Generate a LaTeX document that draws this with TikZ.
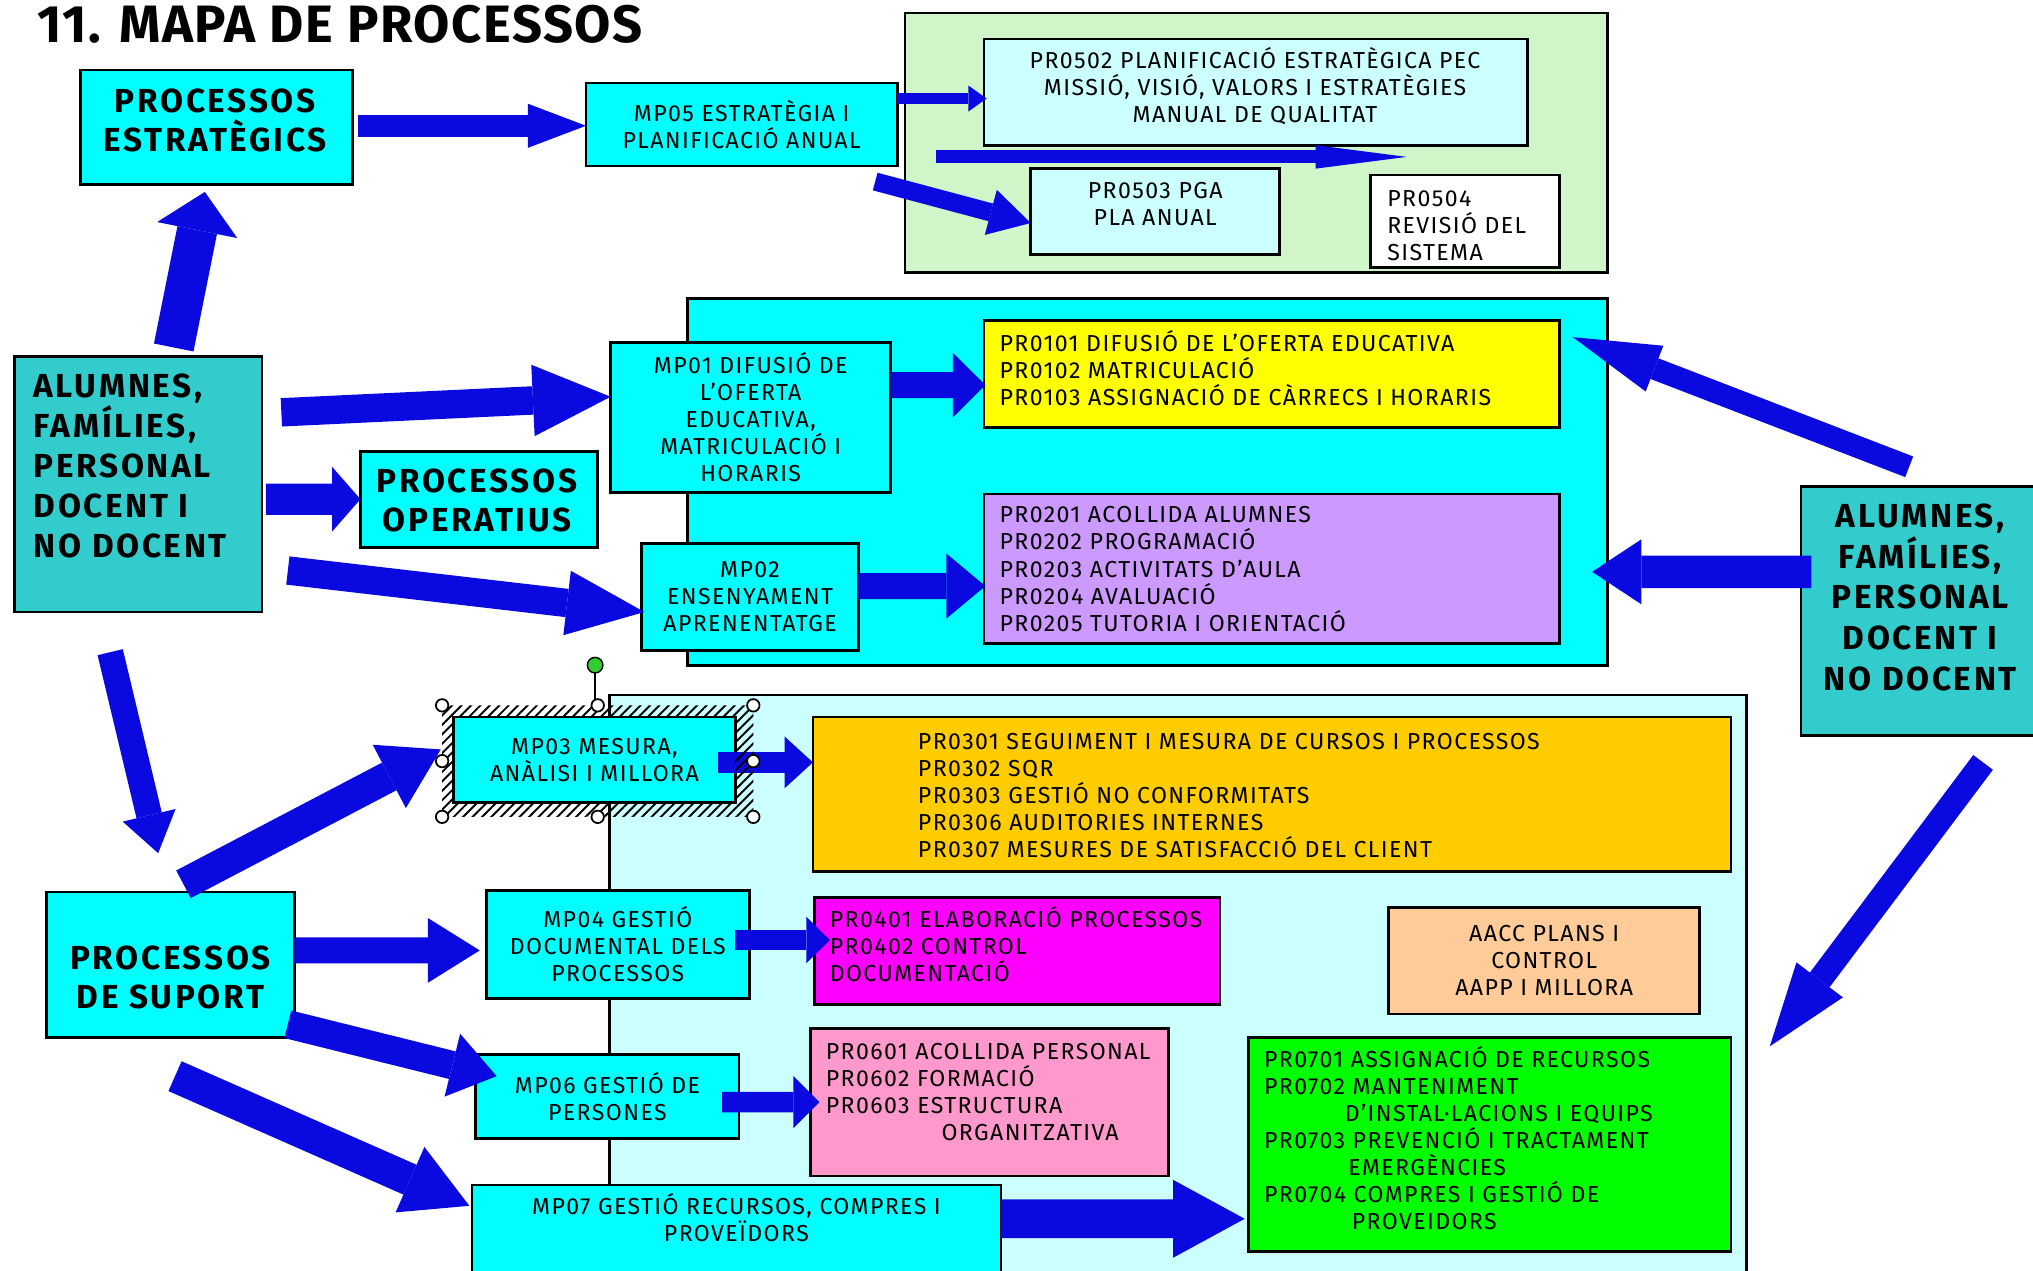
\documentclass[tikz,border=0pt]{standalone}
\usepackage{fontspec}
\setmainfont{Fira Sans}
\usetikzlibrary{arrows.meta,calc,patterns.meta}
\definecolor{cy}{HTML}{00FFFF}
\definecolor{lcy}{HTML}{CCFFFF}
\definecolor{lgreen}{HTML}{D0F5C8}
\definecolor{tealc}{HTML}{33CCCC}
\definecolor{yel}{HTML}{FFFF00}
\definecolor{purp}{HTML}{CC99FF}
\definecolor{orng}{HTML}{FFCC00}
\definecolor{mag}{HTML}{FF00FF}
\definecolor{peach}{HTML}{FFCC99}
\definecolor{pinkc}{HTML}{FF99CC}
\definecolor{grn}{HTML}{00FF00}
\definecolor{ablue}{HTML}{0A0AE0}
\definecolor{hgreen}{HTML}{33CC33}
\newcommand\mybox[7][]{\node[box,#1,minimum width={(#5-#3)*0.013cm},minimum height={(#6-#4)*0.013cm}] (#2) at ({(#3+#5)/2},{(#4+#6)/2}) {#7};}
\newcommand\fl{\rule{0pt}{6.3pt}}
\newcommand\flb{\rule{0pt}{9pt}}
\newcommand\smallfnt{\fontsize{6.6}{7.7}\selectfont\addfontfeatures{LetterSpace=6}}
\newcommand\boldfnt{\fontsize{9.5}{11.1}\selectfont\bfseries\addfontfeatures{LetterSpace=8}}
\begin{document}
\begin{tikzpicture}[x=0.013cm,y=-0.013cm,
 box/.style={draw=black,line width=0.8pt,inner sep=0pt,outer sep=0pt,align=center},
 pan/.style={draw=black,line width=0.8pt},
 st/.style={font=\smallfnt},
 bt/.style={inner sep=0pt,outer sep=0pt,align=center,anchor=north,font=\boldfnt},
 tx/.style={inner sep=0pt,outer sep=0pt,align=left,anchor=north west,font=\smallfnt},
 ar/.style n args={3}{draw=ablue,line width=#1,-{Triangle[width=#2,length=#3,line width=0pt]}},
 hnd/.style={draw=black,fill=white,line width=0.5pt}]
\useasboundingbox (0,0) rectangle (1568,980);
\node[anchor=base west,inner sep=0pt,font=\fontsize{15}{18}\selectfont\bfseries\addfontfeatures{LetterSpace=3}] (title) at (28,33) {11. MAPA DE PROCESSOS};
% panels
\mybox[pan,fill=lgreen]{gp}{698}{10}{1240}{210}{}
\mybox[pan,fill=cy]{op}{530}{230}{1240}{513}{}
\mybox[pan,fill=lcy]{sp}{470}{536}{1347}{995}{}
% boxes
\mybox[fill=cy]{pe}{62}{54}{272}{142}{}
\mybox[fill=cy,st]{mp05}{452}{64}{692}{128}{MP05 ESTRATÈGIA I\\PLANIFICACIÓ ANUAL}
\mybox[fill=lcy]{pr0502}{759}{30}{1178}{112}{}
\mybox[fill=lcy]{pr0503}{795}{130}{987}{196}{}
\mybox[fill=white]{pr0504}{1057}{135}{1203}{206}{}
\mybox[fill=cy,st]{mp01}{471}{264}{687}{380}{MP01 DIFUSIÓ DE\\L'OFERTA\\EDUCATIVA,\\MATRICULACIÓ I\\HORARIS}
\mybox[fill=yel]{pr01}{759}{247}{1203}{330}{}
\mybox[fill=purp]{pr02}{759}{381}{1203}{496}{}
\mybox[fill=cy,st]{mp02}{495}{419}{662}{502}{MP02\\ENSENYAMENT\\APRENENTATGE}
\mybox[fill=tealc]{alL}{11}{275}{202}{472}{}
\mybox[fill=cy]{po}{278}{348}{461}{422}{}
\mybox[fill=tealc]{alR}{1389}{375}{1572}{567}{}
\mybox[fill=orng]{pr03}{627}{553}{1335}{672}{}
\mybox[fill=cy,st]{mp03}{350}{553}{567}{619}{MP03 MESURA,\\ANÀLISI I MILLORA}
\mybox[fill=cy,st]{mp04}{375}{687}{578}{770}{MP04 GESTIÓ\\DOCUMENTAL DELS\\PROCESSOS}
\mybox[fill=mag]{pr04}{628}{692}{941}{775}{}
\mybox[fill=peach,st]{aacc}{1071}{700}{1311}{782}{AACC PLANS I\\CONTROL\\AAPP I MILLORA}
\mybox[fill=cy]{ps}{36}{688}{227}{800}{}
\mybox[fill=cy,st]{mp06}{367}{813}{570}{878}{MP06 GESTIÓ DE\\PERSONES}
\mybox[fill=pinkc]{pr06}{625}{793}{901}{907}{}
\mybox[fill=cy]{mp07}{364}{914}{772}{995}{}
\mybox[fill=grn]{pr07}{963}{800}{1335}{965}{}
% bold texts
\node[bt] (pet) at (166,62.6) {\flb PROCESSOS\\ESTRATÈGICS};
\node[bt] (pot) at (368,355.6) {\flb PROCESSOS\\OPERATIUS};
\node[bt] (pst) at (131.5,723.6) {\flb PROCESSOS\\DE SUPORT};
\node[bt,anchor=north west,align=left,font=\boldfnt\fontsize{9.5}{11.4}\selectfont] (alLt) at (26,282.6) {\flb ALUMNES,\\FAMÍLIES,\\PERSONAL\\DOCENT I\\NO DOCENT};
\node[bt,font=\boldfnt\fontsize{9.5}{11.6}\selectfont] (alRt) at (1481,382.6) {\flb ALUMNES,\\FAMÍLIES,\\PERSONAL\\DOCENT I\\NO DOCENT};
% small texts
\node[tx,align=center,anchor=north] (t0502) at (968,36) {\fl PR0502 PLANIFICACIÓ ESTRATÈGICA PEC\\MISSIÓ, VISIÓ, VALORS I ESTRATÈGIES\\MANUAL DE QUALITAT};
\node[tx,align=center,anchor=north] (t0503) at (891,136) {\fl PR0503 PGA\\PLA ANUAL};
\node[tx] (t0504) at (1070,142) {\fl PR0504\\REVISIÓ DEL\\SISTEMA};
\node[tx] (t01) at (771,254) {\fl PR0101 DIFUSIÓ DE L'OFERTA EDUCATIVA\\PR0102 MATRICULACIÓ\\PR0103 ASSIGNACIÓ DE CÀRRECS I HORARIS};
\node[tx,font=\smallfnt\fontsize{6.6}{7.8}\selectfont] (t02) at (771,386) {\fl PR0201 ACOLLIDA ALUMNES\\PR0202 PROGRAMACIÓ\\PR0203 ACTIVITATS D'AULA\\PR0204 AVALUACIÓ\\PR0205 TUTORIA I ORIENTACIÓ};
\node[tx] (t03) at (708,561) {\fl PR0301 SEGUIMENT I MESURA DE CURSOS I PROCESSOS\\PR0302 SQR\\PR0303 GESTIÓ NO CONFORMITATS\\PR0306 AUDITORIES INTERNES\\PR0307 MESURES DE SATISFACCIÓ DEL CLIENT};
\node[tx] (t04) at (640,698) {\fl PR0401 ELABORACIÓ PROCESSOS\\PR0402 CONTROL\\DOCUMENTACIÓ};
\node[tx] (t06) at (637,800) {\fl PR0601 ACOLLIDA PERSONAL\\PR0602 FORMACIÓ\\PR0603 ESTRUCTURA\\\hspace*{33pt}ORGANITZATIVA};
\node[tx] (t07) at (975,806) {\fl PR0701 ASSIGNACIÓ DE RECURSOS\\PR0702 MANTENIMENT\\\hspace*{23pt}D'INSTAL·LACIONS I EQUIPS\\PR0703 PREVENCIÓ I TRACTAMENT\\\hspace*{24pt}EMERGÈNCIES\\PR0704 COMPRES I GESTIÓ DE\\\hspace*{25pt}PROVEIDORS};
\node[tx,align=center,anchor=north] (t07m) at (568,920) {\fl MP07 GESTIÓ RECURSOS, COMPRES I\\PROVEÏDORS};
% arrows
\draw[ar={6.3pt}{12.6pt}{16.6pt}] ($(pe.east)+(4,-1)$) -- ($(mp05.west)+(0,1)$);
\draw[ar={3.3pt}{7.4pt}{5.2pt}] ($(mp05.north east)+(0,12)$) -- ($(pr0502.west)+(2,5)$);
\coordinate (a3s) at (722,121);
\coordinate (a3e) at (1085,121);
\draw[ar={3.7pt}{6.7pt}{26pt}] (a3s) -- (a3e);
\draw[ar={5.2pt}{13.3pt}{11.8pt}] ($(mp05.south east)+(-17,12)$) -- ($(pr0503.west)+(0,9)$);
\draw[ar={8.1pt}{20.4pt}{22.2pt}] ($(alL.north east)+(15,43)$) -- ($(mp01.west)+(0,-16)$);
\draw[ar={8.9pt}{18.5pt}{8.1pt}] ($(alL.east)+(3,11.5)$) -- (po.west);
\draw[ar={8.1pt}{18.5pt}{22.2pt}] ($(alL.south east)+(20,-32)$) -- ($(mp02.west)+(2,11.5)$);
\draw[ar={11.5pt}{23.3pt}{11.1pt}] ($(alL.north)+(27.5,-7)$) -- ($(pe.south)+(-9,6)$);
\draw[ar={7.4pt}{15.5pt}{11.1pt}] ($(alL.south)+(-21.5,31)$) -- ($(ps.north)+(-9.5,-30)$);
\draw[ar={7.4pt}{18.5pt}{9.3pt}] ($(mp01.east)+(0,-25)$) -- ($(pr01.west)+(1,8.5)$);
\draw[ar={7.4pt}{18.5pt}{11.1pt}] ($(mp02.east)+(0,-8.5)$) -- ($(pr02.west)+(1,13.5)$);
\draw[ar={6.3pt}{14pt}{25pt}] ($(alR.north)+(-8,-15)$) -- ($(pr01.north east)+(10,13)$);
\draw[ar={9.3pt}{18.5pt}{14pt}] ($(alR.west)+(8,-30)$) -- ($(pr02.east)+(25,2.5)$);
\draw[ar={7pt}{16.6pt}{23.7pt}] ($(alR.south)+(49,21)$) -- ($(pr07.north east)+(30,7)$);
\draw[ar={8.9pt}{20.4pt}{16.6pt}] ($(ps.north)+(10,-6)$) -- ($(mp03.west)+(-10,-8)$);
\draw[ar={5.9pt}{14.8pt}{8.1pt}] ($(mp03.east)+(-13,2)$) -- ($(pr03.west)+(0,-24.5)$);
\draw[ar={7.4pt}{18.5pt}{14.8pt}] ($(ps.east)+(0,-11)$) -- ($(mp04.west)+(-5,4.5)$);
\draw[ar={5.9pt}{13.3pt}{6.7pt}] ($(mp04.east)+(-11,-3.5)$) -- ($(pr04.west)+(12,-8.5)$);
\draw[ar={8.1pt}{18.5pt}{13pt}] ($(ps.south east)+(-5,-10)$) -- ($(mp06.west)+(16,-15.5)$);
\draw[ar={5.9pt}{14.8pt}{7.4pt}] ($(mp06.east)+(-13,4.5)$) -- ($(pr06.west)+(7,0)$);
\draw[ar={9.3pt}{20.4pt}{18.5pt}] ($(ps.south)+(3.5,30)$) -- ($(mp07.west)+(-2,-24.5)$);
\draw[ar={11.1pt}{22.2pt}{20.4pt}] ($(mp07.east)+(0,-14.5)$) -- ($(pr07.west)+(-3,57.5)$);
% selection frame of MP03
\fill[pattern={Lines[angle=45,distance=1.9pt,line width=0.55pt]},pattern color=black,even odd rule]
  ($(mp03.north west)+(-9,-9)$) rectangle ($(mp03.south east)+(14,11)$)
  (mp03.north west) rectangle (mp03.south east);
\coordinate (hg) at ($(mp03.north)+(0.5,-40)$);
\draw[line width=0.6pt] (hg) -- ($(mp03.north)+(0.5,-9)$);
\fill[hgreen,draw=black,line width=0.4pt] (hg) circle[radius=6];
\foreach \p in {(341,544),(461,544),(581,544),(341,587),(581,587),(341,630),(461,630),(581,630)}
  \draw[hnd] \p circle[radius=4.8];
\end{tikzpicture}
\end{document}
